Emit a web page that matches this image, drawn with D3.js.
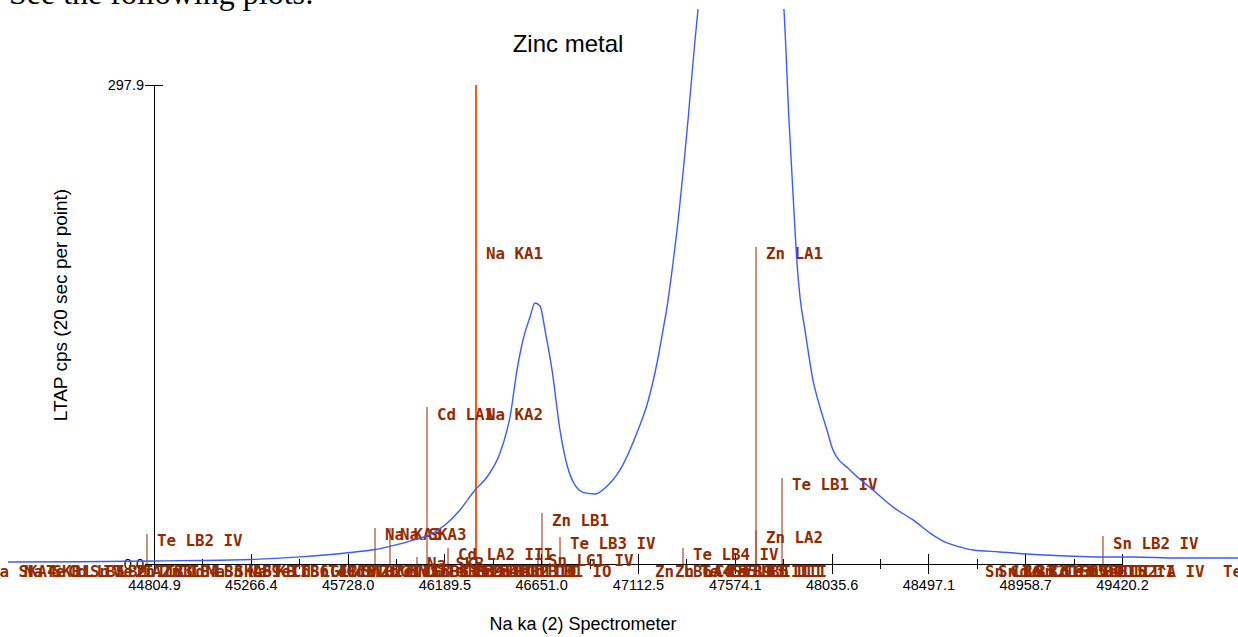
<!DOCTYPE html>
<html lang="en">
<head>
<meta charset="utf-8">
<title>Zinc metal</title>
<script src="https://cdn.jsdelivr.net/npm/d3@7"></script>
<style>
body { margin: 0; background: #fff; }
svg { display: block; }
.axis text { font-family: "Liberation Sans", Arial, sans-serif; font-size: 14.5px; fill: #000; }
.axis path, .axis line { stroke: #000; shape-rendering: crispEdges; }
.mk { font-family: "DejaVu Sans Mono", monospace; font-weight: bold; font-size: 15.8px; fill: #952a00; }
</style>
</head>
<body>
<svg width="1238" height="637"></svg>
<script>
// spectrum (wavelength position, cps)
var energy = [44108.8, 44452.1, 44804.9, 45262.6, 45501.0, 45729.9, 45858.6, 45930.1, 46058.9, 46106.6,
  46192.4, 46264.0, 46335.5, 46392.7, 46454.7, 46488.0, 46502.3, 46535.7, 46564.3, 46597.7,
  46621.5, 46645.4, 46669.2, 46702.6, 46740.7, 46774.1, 46812.2, 46859.9, 46907.6, 46955.3,
  47026.8, 47112.6, 47155.5, 47203.2, 47231.8, 47250.9, 47279.5, 47298.6, 47351.0, 47384.4,
  47422.6, 47479.9, 47599.0, 47700.0, 47765.8, 47794.4, 47808.6, 47832.4, 47861.0, 47870.6,
  47884.9, 47908.7, 47946.9, 47980.2, 48013.6, 48042.2, 48123.3, 48233.0, 48328.3, 48423.7,
  48519.0, 48585.8, 48647.8, 48709.7, 48838.5, 48967.2, 49157.9, 49315.3, 49472.6, 49682.4, 49973.3];
var counts = [1.2, 1.4, 1.9, 2.8, 4.4, 7.0, 9.0, 11.0, 15.5, 17.5,
  24.3, 33.6, 46.0, 54.1, 69.0, 83.3, 91.4, 120.7, 139.3, 153.6,
  162.3, 160.5, 145.5, 120.7, 83.3, 61.6, 49.1, 44.2, 43.5, 47.3,
  58.5, 83.3, 99.0, 125.0, 145.5, 159.8, 187.2, 207.7, 276.1, 325.9,
  375.6, 444.0, 512.0, 500.0, 425.0, 369.4, 344.5, 276.1, 207.7, 187.2,
  166.1, 145.5, 114.4, 97.6, 83.3, 70.9, 58.5, 46.0, 35.4, 27.4,
  18.0, 13.1, 10.6, 8.7, 7.5, 6.2, 5.0, 4.4, 4.4, 3.7, 3.7];

var tickLabels = ["44804.9", "45266.4", "45728.0", "46189.5", "46651.0", "47112.5",
  "47574.1", "48035.6", "48497.1", "48958.7", "49420.2"];
var yTickLabels = ["0.0", "297.9"];

// KLM markers
var markerEnergy = [44771.5, 45858.6, 45930.1, 46058.9, 46106.6, 46206.7, 46340.2, 46340.2,
  46635.7, 46654.8, 46740.7, 47327.1, 47675.3, 47675.3, 47799.3, 49329.5,
  43975.3, 44137.4, 44242.3, 44347.2, 44452.1, 44566.5, 44671.4, 44795.4, 44909.8, 45005.1,
  45091.0, 45205.4, 45319.8, 45415.2, 45501.0, 45586.8, 45672.7, 45748.9, 45834.8, 45901.5,
  45987.3, 46073.2, 46149.4, 46225.7, 46292.5, 46368.8, 46454.6, 46530.9,
  47145.9, 47241.3, 47360.5, 47432.0, 47494.0, 47513.0,
  48719.3, 48781.3, 48838.5, 48895.7, 48957.7, 49029.2, 49100.7, 49172.3, 49267.6, 49854.1];
var markerHeight = [18.7, 22.4, 22.4, 4.4, 97.6, 10.0, 197.2, 97.6,
  6.8, 31.7, 16.8, 10.0, 197.2, 21.0, 53.5, 17.4,
  0, 0, 0, 0, 0, 0, 0, 0, 0, 0,
  0, 0, 0, 0, 0, 0, 0, 0, 0, 0,
  0, 0, 0, 0, 0, 0, 0, 0,
  0, 0, 0, 0, 0, 0,
  0, 0, 0, 0, 0, 0, 0, 0, 0, 0];
var markerLabel = ["Te LB2 IV", "Na KA3", "Na SKA3", "Na SKB", "Cd LA1", "Cd LA2 III", "Na KA1", "Na KA2",
  "Sn LG1 IV", "Zn LB1", "Te LB3 IV", "Te LB4 IV", "Zn LA1", "Zn LA2", "Te LB1 IV", "Sn LB2 IV",
  "Na SKA4", "Na SKB'", "Te LL IV", "Cd LB5 II", "Sn LB2 III", "Te LA2 II", "Zn LB3", "Zn LB4", "Cd LB3", "Na SKA5",
  "Sn LB9 II", "Na KB", "Te LB6 II", "Cd LG1 IV", "Sn LB15", "Te LB10 IV", "Cd LB2 III", "Sn LG5 II", "Zn LN", "Te LG3 III",
  "Cd LB6 II", "Sn LB3 III", "Te LB9 III", "Cd LB4 II", "Sn LB1 III", "Zn LB2 II", "Te LB10", "Cd LB1 IO",
  "Zn LB6", "Zn LA4 II", "Te LB5 II", "Cd LB9 III", "Te LB3 III", "Sn LB5 III",
  "Sn LB6", "Sn LB3", "Cd LB2 IV", "Te LG1 IV", "Sn LG3 III", "Cd LG5 III", "Te LB4 III", "Sn LB15 II", "Sn LB2^A IV", "Te LB2 II"];

var cursorEnergy = 46340.2;

var svg = d3.select("svg");

var x = d3.scaleLinear().domain([44804.9, 49420.2]).range([154, 1122]);
var y = d3.scaleLinear().domain([0, 297.9]).range([564, 85]);

// page text above the plot
svg.append("text")
    .attr("x", 9).attr("y", 4)
    .attr("font-family", "Liberation Serif, Times New Roman, serif")
    .attr("font-size", 32)
    .text("See the following plots:");

svg.append("clipPath").attr("id", "plotclip")
  .append("rect").attr("x", 0).attr("y", 9).attr("width", 1238).attr("height", 628);

// marker lines
svg.selectAll(".mline")
    .data(markerEnergy)
  .enter().append("line")
    .attr("class", "mline")
    .attr("x1", function(d) { return x(d); })
    .attr("x2", function(d) { return x(d); })
    .attr("y1", y(0))
    .attr("y2", function(d, i) { return y(markerHeight[i]); })
    .attr("stroke", "#a8482a")
    .attr("stroke-width", 1.2);

// spectrometer position
svg.append("line")
    .attr("x1", x(cursorEnergy)).attr("x2", x(cursorEnergy))
    .attr("y1", y(0)).attr("y2", y(297.9))
    .attr("stroke", "#f55a1e")
    .attr("stroke-width", 2);

// x axis
var xAxis = d3.axisBottom(x)
    .tickValues(tickLabels.map(Number))
    .tickFormat(function(d, i) { return tickLabels[i]; })
    .tickSizeOuter(0);
var gx = svg.append("g")
    .attr("class", "axis")
    .attr("transform", "translate(0," + y(0) + ")")
    .call(xAxis);
gx.selectAll(".tick line").attr("y1", -10).attr("y2", 10);
gx.selectAll(".tick text").attr("y", 26).attr("dy", 0);

var minor = d3.range(tickLabels.length - 1).map(function(i) {
  return (Number(tickLabels[i]) + Number(tickLabels[i + 1])) / 2;
});
var gm = svg.append("g")
    .attr("class", "axis")
    .attr("transform", "translate(0," + y(0) + ")")
    .call(d3.axisBottom(x).tickValues(minor).tickFormat("").tickSizeOuter(0));
gm.select(".domain").remove();
gm.selectAll(".tick line").attr("y1", -5).attr("y2", 5);

// y axis
var gy = svg.append("g")
    .attr("class", "axis")
    .attr("transform", "translate(" + x(44804.9) + ",0)")
    .call(d3.axisLeft(y)
      .tickValues([0, 297.9])
      .tickFormat(function(d, i) { return yTickLabels[i]; })
      .tickSizeOuter(0));
gy.selectAll(".tick line").attr("x1", -9).attr("x2", 9);
gy.selectAll(".tick text").attr("x", -10);

// marker labels
svg.selectAll(".mk")
    .data(markerEnergy)
  .enter().append("text")
    .attr("class", "mk")
    .attr("x", function(d) { return x(d) + 10; })
    .attr("y", function(d, i) { return y(markerHeight[i]) + 12.5; })
    .text(function(d, i) { return markerLabel[i]; });

// spectrum
var line = d3.line()
    .x(function(d, i) { return x(energy[i]); })
    .y(function(d) { return y(d); })
    .curve(d3.curveMonotoneX);

svg.append("path")
    .datum(counts)
    .attr("clip-path", "url(#plotclip)")
    .attr("fill", "none")
    .attr("stroke", "#3b5bff")
    .attr("stroke-width", 1.4)
    .attr("d", line);

// titles
svg.append("text")
    .attr("x", 568).attr("y", 52)
    .attr("text-anchor", "middle")
    .attr("font-family", "Liberation Sans, Arial, sans-serif")
    .attr("font-size", 24)
    .text("Zinc metal");

svg.append("text")
    .attr("x", 583).attr("y", 630)
    .attr("text-anchor", "middle")
    .attr("font-family", "Liberation Sans, Arial, sans-serif")
    .attr("font-size", 18)
    .text("Na ka (2) Spectrometer");

svg.append("text")
    .attr("transform", "translate(67,305) rotate(-90)")
    .attr("text-anchor", "middle")
    .attr("font-family", "Liberation Sans, Arial, sans-serif")
    .attr("font-size", 19)
    .text("LTAP cps (20 sec per point)");
</script>
</body>
</html>
